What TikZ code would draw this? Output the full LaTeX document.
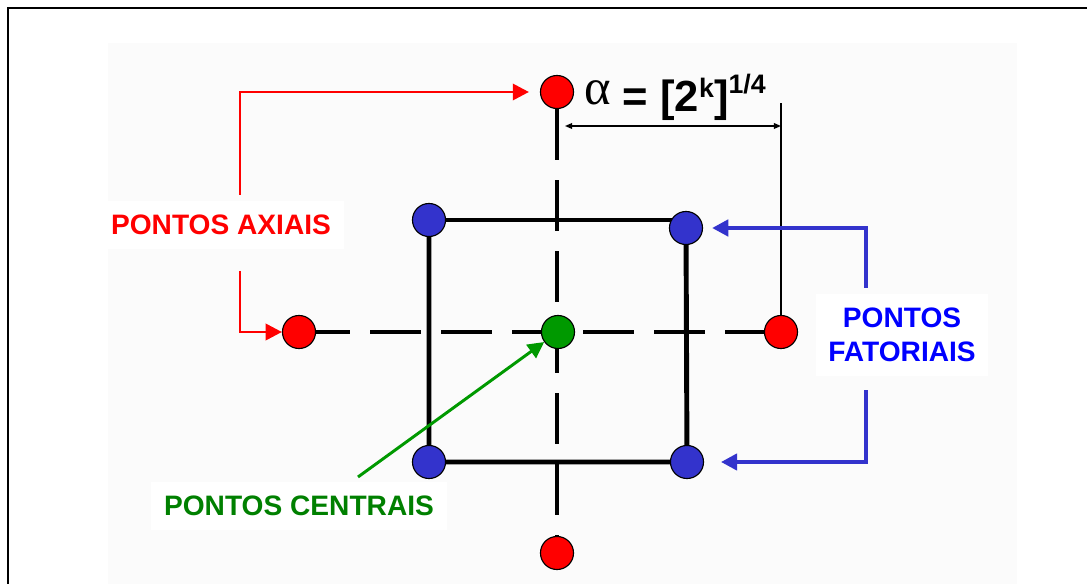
\documentclass[tikz,border=0pt]{standalone}
\usepackage{fontspec}
\setmainfont{Liberation Sans}
\newfontfamily\greekfont{Liberation Serif}
\usetikzlibrary{arrows.meta,positioning,calc}
\pgfdeclarelayer{background}
\pgfsetlayers{background,main}
\definecolor{axred}{RGB}{255,0,0}
\definecolor{fatblue}{RGB}{51,51,204}
\definecolor{fattext}{RGB}{0,0,255}
\definecolor{cengreen}{RGB}{0,153,0}
\definecolor{centext}{RGB}{0,128,0}
\tikzset{
  pt/.style={
    circle,
    draw = black,
    line width = 0.8pt,
    minimum size = 23.5pt,
    inner sep = 0pt
  },
  axial/.style={pt, fill = axred},
  fatorial/.style={pt, fill = fatblue},
  central/.style={pt, fill = cengreen},
  frame/.style={line width = 3.5pt},
  axis/.style={line width = 3.5pt, dash pattern = on 36pt off 14.5pt},
  tag/.style={
    font = \fontsize{20}{24}\selectfont\bfseries,
    fill = white,
    inner xsep = 9pt,
    inner ysep = 10pt
  },
  ptr/.style={-{Triangle[length=11.5pt,width=11.5pt]}},
  redptr/.style={ptr, draw = axred, line width = 2.1pt},
  blueptr/.style={ptr, draw = fatblue, line width = 2.8pt},
  greenptr/.style={ptr, draw = cengreen, line width = 2.1pt},
  dim/.style={line width = 1pt}
}
\begin{document}
\begin{tikzpicture}[x=0.025cm, y=-0.025cm]
    \useasboundingbox (0,0) rectangle (1087,584);
    \draw[line width=1.5pt] (8,584) -- (8,8) -- (1087,8);
    % labels
    \node[tag, text=axred] (axlab) at (221,225) {PONTOS AXIAIS};
    \node[tag, text=fattext, align=center] (fatlab) at (902,335) {PONTOS\\FATORIAIS};
    \node[tag, text=centext] (cenlab) at (299,506) {PONTOS CENTRAIS};
    % design points
    \node[axial] (atop) at (557,92) {};
    \node[axial] (aleft) at (299,332) {};
    \node[axial] (aright) at (781,332) {};
    \node[axial] (abot) at (557,553) {};
    \foreach \n/\x/\y in {tl/429/220, tr/686/228, bl/429/462, br/687/462}{
    \node[fatorial] (\n) at (\x,\y) {};}
    \node[central] (cp) at (558,332) {};
    \begin{pgfonlayer}{background}
    \fill[black!1.5] (108,43) rectangle (1017,584);
    \draw[axis] (aleft.center) -- (aright.center);
    \draw[axis] (atop) -- (abot);
    \draw[frame] (tl.center) -- (tl.center -| tr.center);
    \draw[frame] (tr.center) -- (br.center) -- (bl.center) -- (tl.center);
    \end{pgfonlayer}
    % alpha
    \coordinate (dimtop) at (781,103);
    \coordinate (dimL) at (565,126);
    \draw[dim] (aright) -- (dimtop);
    \draw[dim, {Triangle[length=5pt,width=4pt]}-{Triangle[length=5pt,width=4pt]}] (dimL) -- (dimL -| aright);
    \node[anchor=base west, inner sep=0pt, font=\fontsize{31}{33}\selectfont\bfseries] (alab) at (584,112)
      {\raisebox{5pt}{\fontsize{36}{36}\greekfont\mdseries α} = [2\raisebox{10pt}{\fontsize{19}{19}\selectfont k}]\raisebox{13pt}{\fontsize{19}{19}\selectfont 1/4}};
    % pointers
    \coordinate (axup) at (240,195);
    \coordinate (axdn) at (240,271);
    \coordinate (fup) at (866,288);
    \coordinate (fdn) at (866,390);
    \coordinate (ctail) at (358,477);
    \draw[redptr, shorten >=7.8pt] (axup) |- (atop);
    \draw[redptr] (axdn) |- (aleft);
    \draw[blueptr, shorten >=6.4pt] (fup) |- (tr);
    \draw[blueptr, shorten >=12pt] (fdn) |- (br);
    \draw[greenptr] (ctail) -- (cp);
\end{tikzpicture}
\end{document}
